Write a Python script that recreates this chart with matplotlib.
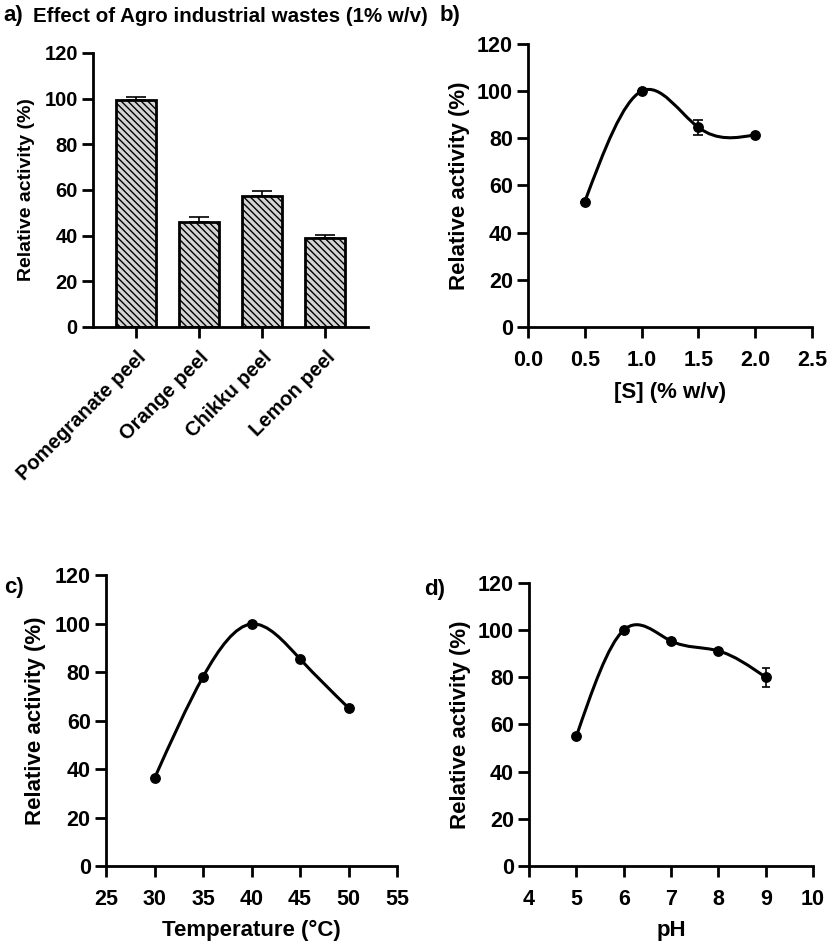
import numpy as np
import matplotlib
matplotlib.use("Agg")
import matplotlib.pyplot as plt
from matplotlib.path import Path
from matplotlib.patches import PathPatch

plt.rcParams["font.family"] = ["Liberation Sans", "DejaVu Sans"]
plt.rcParams["font.weight"] = "bold"
plt.rcParams["hatch.linewidth"] = 1.0

# a) agro industrial wastes
wastes = ["Pomegranate peel", "Orange peel", "Chikku peel", "Lemon peel"]
waste_act = [99.6, 46.1, 57.3, 38.9]
waste_err = [1.1, 2.1, 2.2, 1.3]

# b) substrate concentration
sub_conc = [0.5, 1.0, 1.5, 2.0]
sub_act = [53.2, 100.0, 84.6, 81.5]
sub_err = [0, 0, 3.0, 0]

# c) temperature
temp_c = [30, 35, 40, 45, 50]
temp_act = [36.2, 78.0, 99.8, 85.4, 65.2]
temp_err = [0, 0, 0, 0, 0]

# d) pH
ph = [5, 6, 7, 8, 9]
ph_act = [55.0, 100.0, 95.4, 91.2, 80.0]
ph_err = [0, 0, 0, 0, 4.0]

LW = 2.0
TICK_FS = 15.5
LAB_FS = 16


def style(ax, tick_fs=TICK_FS, lab_fs=LAB_FS, ypad=7):
    for s in ("top", "right"):
        ax.spines[s].set_visible(False)
    for s in ("left", "bottom"):
        ax.spines[s].set_linewidth(LW)
    ax.tick_params(width=LW, length=8, labelsize=tick_fs)
    ax.tick_params(axis="y", pad=3)
    ax.tick_params(axis="x", pad=8.5)
    ax.set_ylim(0, 120)
    ax.set_yticks(range(0, 121, 20))
    ax.set_ylabel("Relative activity (%)", fontsize=lab_fs, fontweight="bold", labelpad=ypad)
    for t in ax.get_xticklabels() + ax.get_yticklabels():
        t.set_fontweight("bold")


def spline_path(ax, x, y):
    """natural cubic spline through the points, drawn as bezier segments"""
    x = np.asarray(x, float); y = np.asarray(y, float)
    n = len(x); h = x[1] - x[0]
    A = np.zeros((n, n)); r = np.zeros(n)
    A[0, 0] = A[-1, -1] = 1
    for i in range(1, n - 1):
        A[i, i - 1:i + 2] = [1, 4, 1]
        r[i] = 6 * (y[i - 1] - 2 * y[i] + y[i + 1]) / h ** 2
    M = np.linalg.solve(A, r)
    d = np.empty(n)
    d[:-1] = (y[1:] - y[:-1]) / h - h * (2 * M[:-1] + M[1:]) / 6
    d[-1] = (y[-1] - y[-2]) / h + h * (M[-2] + 2 * M[-1]) / 6
    verts = [(x[0], y[0])]; codes = [Path.MOVETO]
    for i in range(n - 1):
        verts += [(x[i] + h / 3, y[i] + d[i] * h / 3),
                  (x[i + 1] - h / 3, y[i + 1] - d[i + 1] * h / 3),
                  (x[i + 1], y[i + 1])]
        codes += [Path.CURVE4] * 3
    ax.add_patch(PathPatch(Path(verts, codes), fill=False, lw=LW + 0.2, ec="black",
                           capstyle="round", joinstyle="round"))


def line_panel(ax, x, y, err, cap):
    spline_path(ax, x, y)
    ax.errorbar(x, y, yerr=err, fmt="o", color="black", ms=6.8, elinewidth=1.2,
                capsize=cap, capthick=1.2, zorder=3)
    style(ax)


fig = plt.figure(figsize=(8.27, 9.41), dpi=100)

# a)
axA = fig.add_axes([0.1125, 0.6525, 0.3325, 0.2912])
pos = np.arange(len(wastes))
axA.bar(pos, waste_act, width=0.635, color="#d4d4d4", edgecolor="black", lw=LW,
        hatch="\\\\\\\\\\", zorder=2)
axA.errorbar(pos, waste_act, yerr=[[0] * len(pos), waste_err], fmt="none", ecolor="black",
             elinewidth=1.2, capsize=7.5, capthick=1.2, zorder=1)
axA.set_xlim(-0.68, 3.68)
axA.set_xticks(pos)
axA.set_xticklabels(wastes, rotation=45, ha="right", rotation_mode="anchor")
style(axA, tick_fs=14.5, lab_fs=14, ypad=6.5)
axA.tick_params(axis="x", pad=7)
for t in axA.get_xticklabels():
    t.set_fontsize(14.5)

# b)
axB = fig.add_axes([0.6385, 0.6525, 0.3434, 0.3008])
line_panel(axB, sub_conc, sub_act, sub_err, 3.5)
axB.yaxis.labelpad = 5
axB.set_xlim(0, 2.5)
axB.set_xticks(np.arange(0, 2.51, 0.5))
axB.set_xticklabels([f"{v:.1f}" for v in np.arange(0, 2.51, 0.5)], fontweight="bold")
axB.set_xlabel("[S] (% w/v)", fontsize=LAB_FS, fontweight="bold", labelpad=8)

# c)
axC = fig.add_axes([0.1282, 0.0797, 0.3519, 0.3092])
line_panel(axC, temp_c, temp_act, temp_err, 3)
axC.yaxis.labelpad = 6
axC.set_xlim(25, 55)
axC.set_xticks(range(25, 56, 5))
axC.set_xticklabels([str(v) for v in range(25, 56, 5)], fontweight="bold")
axC.set_xlabel("Temperature (°C)", fontsize=LAB_FS, fontweight="bold", labelpad=7.5)

# d)
axD = fig.add_axes([0.6397, 0.0797, 0.3434, 0.3008])
line_panel(axD, ph, ph_act, ph_err, 3)
axD.yaxis.labelpad = 5
axD.set_xlim(4, 10)
axD.set_xticks(range(4, 11))
axD.set_xticklabels([str(v) for v in range(4, 11)], fontweight="bold")
axD.set_xlabel("pH", fontsize=LAB_FS, fontweight="bold", labelpad=7.5)

# panel letters and title
fig.text(3 / 827, 1 - 15 / 941, "a)", fontsize=16, fontweight="bold", va="center")
fig.text(33 / 827, 1 - 17 / 941, "Effect of Agro industrial wastes (1% w/v)",
         fontsize=14.8, fontweight="bold", va="center")
fig.text(440 / 827, 1 - 15 / 941, "b)", fontsize=16, fontweight="bold", va="center")
fig.text(4 / 827, 1 - 588 / 941, "c)", fontsize=16, fontweight="bold", va="center")
fig.text(424 / 827, 1 - 590 / 941, "d)", fontsize=16, fontweight="bold", va="center")

fig.savefig("out.png", dpi=100)
